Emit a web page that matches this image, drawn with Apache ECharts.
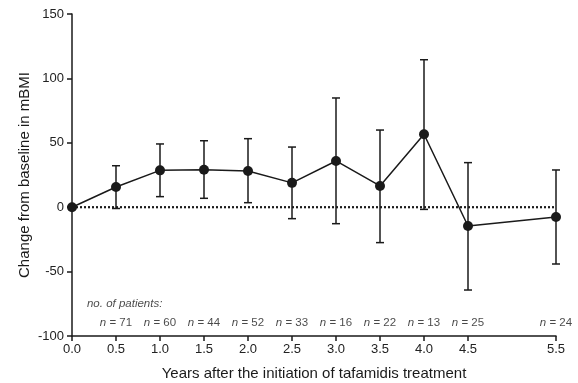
<!DOCTYPE html>
<html>
<head>
<meta charset="utf-8">
<script src="https://cdn.jsdelivr.net/npm/echarts@6/dist/echarts.min.js"></script>
<style>
  html, body { margin: 0; padding: 0; background: #fff; }
  #chart { width: 578px; height: 383px; }
</style>
</head>
<body>
<div id="chart"></div>
<script>
// years after start, mean change in mBMI, error bar ends, patients per visit
var years = [0, 0.5, 1.0, 1.5, 2.0, 2.5, 3.0, 3.5, 4.0, 4.5, 5.5];
var meanChange = [0, 15.7, 28.6, 29.1, 28.1, 18.9, 35.9, 16.5, 56.6, -14.6, -7.6];
var upperBar = [null, 32.2, 49.1, 51.6, 53.2, 46.7, 84.8, 59.9, 114.5, 34.6, 28.9];
var lowerBar = [null, -1, 8.2, 6.9, 3.5, -8.9, -12.8, -27.5, -1.7, -64.3, -44.1];
var nYears = [0.5, 1.0, 1.5, 2.0, 2.5, 3.0, 3.5, 4.0, 4.5, 5.5];
var nPatients = [71, 60, 44, 52, 33, 16, 22, 13, 25, 24];
var xTicks = [0, 0.5, 1.0, 1.5, 2.0, 2.5, 3.0, 3.5, 4.0, 4.5, 5.5];

var chart = echarts.init(document.getElementById('chart'));
var font = 'Liberation Sans, Arial, sans-serif';
var ink = '#1a1a1a';

var pointData = [];
var barData = [];
for (var i = 0; i < years.length; i++) {
    pointData.push([years[i], meanChange[i]]);
    if (upperBar[i] != null) {
        barData.push([years[i], lowerBar[i], upperBar[i]]);
    }
}
var nData = [];
for (var j = 0; j < nYears.length; j++) {
    nData.push([nYears[j], -89.5, nPatients[j]]);
}

function renderErrorBar(params, api) {
    var x = api.value(0);
    var lo = api.coord([x, api.value(1)]);
    var hi = api.coord([x, api.value(2)]);
    var hw = 4;
    var style = { stroke: ink, lineWidth: 1.5 };
    return {
        type: 'group',
        children: [
            { type: 'line', shape: { x1: hi[0], y1: hi[1], x2: lo[0], y2: lo[1] }, style: style },
            { type: 'line', shape: { x1: hi[0] - hw, y1: hi[1], x2: hi[0] + hw, y2: hi[1] }, style: style },
            { type: 'line', shape: { x1: lo[0] - hw, y1: lo[1], x2: lo[0] + hw, y2: lo[1] }, style: style }
        ]
    };
}

var option = {
    animation: false,
    backgroundColor: '#fff',
    grid: { left: 72, right: 22, top: 14, bottom: 47, containLabel: false, outerBoundsMode: 'none' },
    xAxis: {
        type: 'value',
        min: 0,
        max: 5.5,
        interval: 0.5,
        name: 'Years after the initiation of tafamidis treatment',
        nameLocation: 'middle',
        nameGap: 30,
        nameTextStyle: { fontFamily: font, fontSize: 15, color: ink },
        axisLine: { onZero: false, lineStyle: { color: ink, width: 1.5 } },
        axisTick: { customValues: xTicks, length: 5, lineStyle: { color: ink, width: 1.5 } },
        axisLabel: {
            customValues: xTicks,
            fontFamily: font, fontSize: 13, color: '#222', margin: 7,
            formatter: function (v) { return v.toFixed(1); }
        },
        splitLine: { show: false }
    },
    yAxis: {
        type: 'value',
        min: -100,
        max: 150,
        interval: 50,
        name: 'Change from baseline in mBMI',
        nameLocation: 'middle',
        nameGap: 40,
        nameMoveOverlap: false,
        nameTextStyle: { fontFamily: font, fontSize: 15, color: ink },
        axisLine: { show: true, onZero: false, lineStyle: { color: ink, width: 1.5 } },
        axisTick: { show: true, length: 5, lineStyle: { color: ink, width: 1.5 } },
        axisLabel: { fontFamily: font, fontSize: 13, color: '#222', margin: 8 },
        splitLine: { show: false }
    },
    series: [
        {
            type: 'line',
            data: [[0, 0], [5.5, 0]],
            symbol: 'none',
            silent: true,
            lineStyle: { color: ink, width: 2.2, type: [2, 2] },
            z: 1
        },
        {
            type: 'custom',
            renderItem: renderErrorBar,
            data: barData,
            z: 2
        },
        {
            type: 'line',
            data: pointData,
            symbol: 'circle',
            symbolSize: 10,
            itemStyle: { color: ink },
            lineStyle: { color: ink, width: 1.5 },
            z: 3
        },
        {
            type: 'scatter',
            data: nData,
            symbolSize: 0,
            silent: true,
            label: {
                show: true,
                position: 'inside',
                fontFamily: font,
                fontSize: 11.5,
                color: ink,
                formatter: function (p) { return '{i|n} = ' + p.value[2]; },
                rich: { i: { fontStyle: 'italic', fontFamily: font, fontSize: 11.5, color: ink } }
            }
        },
        {
            type: 'scatter',
            data: [[0.17, -75.2]],
            symbolSize: 0,
            silent: true,
            label: {
                show: true,
                position: 'right',
                distance: 0,
                fontFamily: font,
                fontSize: 11.5,
                fontStyle: 'italic',
                color: ink,
                formatter: 'no. of patients:'
            }
        }
    ]
};
chart.setOption(option);
</script>
</body>
</html>
